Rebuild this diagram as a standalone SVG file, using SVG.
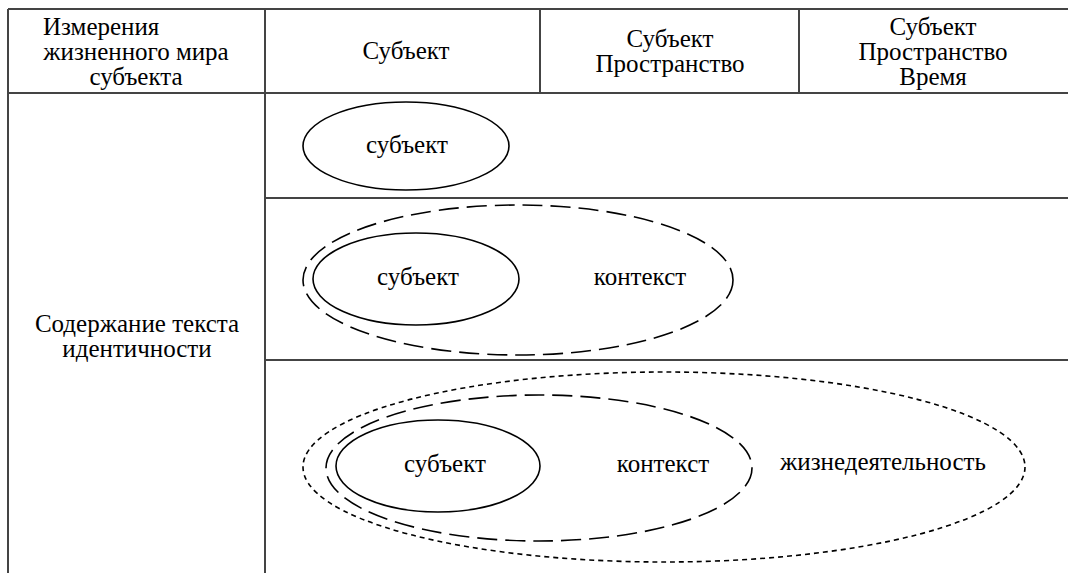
<svg xmlns="http://www.w3.org/2000/svg" width="1068" height="573" viewBox="0 0 1068 573">
<defs>
<style>
.grid{stroke:#444;stroke-width:2;fill:none}
.solid{fill:none;stroke:#000;stroke-width:1.6}
.dash{fill:none;stroke:#000;stroke-width:1.6;stroke-dasharray:20 8}
.dot{fill:none;stroke:#000;stroke-width:1.6;stroke-dasharray:5 4}
</style>
</defs>
<rect width="1068" height="573" fill="#fff"/>
<g id="table">
<line class="grid" x1="8" y1="9" x2="1068" y2="9"/>
<line class="grid" x1="8" y1="93" x2="1068" y2="93"/>
<line class="grid" x1="265" y1="198" x2="1068" y2="198"/>
<line class="grid" x1="265" y1="360" x2="1068" y2="360"/>
<line class="grid" x1="8" y1="9" x2="8" y2="573"/>
<line class="grid" x1="265" y1="9" x2="265" y2="573"/>
<line class="grid" x1="540" y1="9" x2="540" y2="93"/>
<line class="grid" x1="799" y1="9" x2="799" y2="93"/>
</g>
<g id="header">
<text x="43" y="35" font-family="Times New Roman" font-size="25">Измерения</text>
<text x="136" y="60" font-family="Times New Roman" font-size="25" text-anchor="middle">жизненного мира</text>
<text x="136" y="85" font-family="Times New Roman" font-size="25" text-anchor="middle">субъекта</text>
<text x="406" y="59" font-family="Times New Roman" font-size="25" text-anchor="middle">Субъект</text>
<text x="670" y="47" font-family="Times New Roman" font-size="25" text-anchor="middle">Субъект</text>
<text x="670" y="72" font-family="Times New Roman" font-size="25" text-anchor="middle">Пространство</text>
<text x="933" y="35" font-family="Times New Roman" font-size="25" text-anchor="middle">Субъект</text>
<text x="933" y="60" font-family="Times New Roman" font-size="25" text-anchor="middle">Пространство</text>
<text x="933" y="85" font-family="Times New Roman" font-size="25" text-anchor="middle">Время</text>
</g>
<g id="row-label">
<text x="137" y="332" font-family="Times New Roman" font-size="25" text-anchor="middle">Содержание текста</text>
<text x="137" y="357" font-family="Times New Roman" font-size="25" text-anchor="middle">идентичности</text>
</g>
<g id="row1">
<ellipse class="solid" cx="406" cy="146" rx="103" ry="44"/>
<text x="407" y="153" font-family="Times New Roman" font-size="25" text-anchor="middle">субъект</text>
</g>
<g id="row2">
<ellipse class="dash" cx="518" cy="280" rx="215" ry="75"/>
<ellipse class="solid" cx="416" cy="279" rx="103" ry="46"/>
<text x="418" y="285" font-family="Times New Roman" font-size="25" text-anchor="middle">субъект</text>
<text x="640" y="285" font-family="Times New Roman" font-size="25" text-anchor="middle">контекст</text>
</g>
<g id="row3">
<ellipse class="dot" cx="664" cy="467" rx="361" ry="95"/>
<ellipse class="dash" cx="539" cy="468" rx="213" ry="73"/>
<ellipse class="solid" cx="438" cy="466" rx="102" ry="46"/>
<text x="445" y="472" font-family="Times New Roman" font-size="25" text-anchor="middle">субъект</text>
<text x="663" y="472" font-family="Times New Roman" font-size="25" text-anchor="middle">контекст</text>
<text x="883" y="470" font-family="Times New Roman" font-size="25" text-anchor="middle">жизнедеятельность</text>
</g>
</svg>
